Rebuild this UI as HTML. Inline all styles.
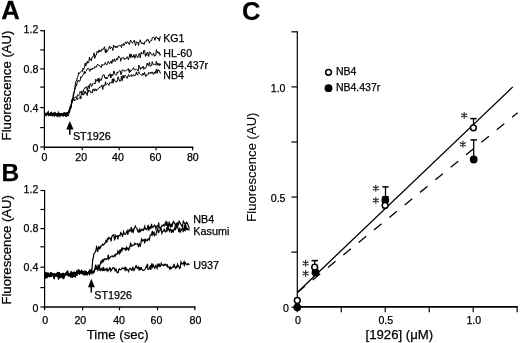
<!DOCTYPE html>
<html><head><meta charset="utf-8"><style>
html,body{margin:0;padding:0;background:#fff;}
svg{display:block;filter:grayscale(1);}
text{font-family:"Liberation Sans", sans-serif;fill:#000;stroke:#000;stroke-width:0.25px;}
</style></head><body>
<svg width="520" height="343" viewBox="0 0 520 343">
<rect width="520" height="343" fill="#fff"/>
<g>
<line x1="44.40" y1="30.10" x2="44.40" y2="147.60" stroke="#000" stroke-width="1.2" />
<line x1="43.80" y1="147.30" x2="193.30" y2="147.30" stroke="#000" stroke-width="1.4" />
<line x1="40.20" y1="147.00" x2="44.40" y2="147.00" stroke="#000" stroke-width="1.2" />
<line x1="40.20" y1="127.60" x2="44.40" y2="127.60" stroke="#000" stroke-width="1.2" />
<line x1="40.20" y1="107.60" x2="44.40" y2="107.60" stroke="#000" stroke-width="1.2" />
<line x1="40.20" y1="87.10" x2="44.40" y2="87.10" stroke="#000" stroke-width="1.2" />
<line x1="40.20" y1="68.90" x2="44.40" y2="68.90" stroke="#000" stroke-width="1.2" />
<line x1="40.20" y1="49.90" x2="44.40" y2="49.90" stroke="#000" stroke-width="1.2" />
<line x1="40.20" y1="30.70" x2="44.40" y2="30.70" stroke="#000" stroke-width="1.2" />
<text x="38.3" y="151.7" font-size="10.6" text-anchor="end" font-weight="normal" >0</text>
<text x="38.3" y="111.6" font-size="10.6" text-anchor="end" font-weight="normal" >0.4</text>
<text x="38.3" y="72.7" font-size="10.6" text-anchor="end" font-weight="normal" >0.8</text>
<text x="38.3" y="33.3" font-size="10.6" text-anchor="end" font-weight="normal" >1.2</text>
<line x1="44.40" y1="147.00" x2="44.40" y2="150.30" stroke="#000" stroke-width="1.2" />
<text x="44.5" y="161.2" font-size="10.6" text-anchor="middle" font-weight="normal" >0</text>
<line x1="82.20" y1="147.00" x2="82.20" y2="150.30" stroke="#000" stroke-width="1.2" />
<text x="81.2" y="161.2" font-size="10.6" text-anchor="middle" font-weight="normal" >20</text>
<line x1="119.20" y1="147.00" x2="119.20" y2="150.30" stroke="#000" stroke-width="1.2" />
<text x="117.9" y="161.2" font-size="10.6" text-anchor="middle" font-weight="normal" >40</text>
<line x1="156.10" y1="147.00" x2="156.10" y2="150.30" stroke="#000" stroke-width="1.2" />
<text x="155.5" y="161.2" font-size="10.6" text-anchor="middle" font-weight="normal" >60</text>
<line x1="192.60" y1="147.00" x2="192.60" y2="150.30" stroke="#000" stroke-width="1.2" />
<text x="192.8" y="161.2" font-size="10.6" text-anchor="middle" font-weight="normal" >80</text>
<text x="0" y="0" font-size="13.2" text-anchor="middle" font-weight="normal" transform="translate(10.6,85.45) rotate(-90)">Fluorescence (AU)</text>
<text x="1.3" y="19.1" font-size="25" text-anchor="start" font-weight="bold" transform="translate(1.3,0) scale(1.03,1) translate(-1.3,0)">A</text>
<polyline points="44.5,112.4 45.1,115.1 46.0,114.5 46.5,113.3 47.3,113.7 47.9,113.8 48.8,115.5 49.5,113.7 50.1,113.7 51.0,112.5 51.6,113.7 52.1,114.6 52.9,113.8 53.7,113.1 54.4,116.0 55.2,114.9 55.6,114.9 56.5,114.7 57.0,114.1 58.0,115.7 58.4,112.5 59.3,114.4 59.8,113.5 60.8,114.0 61.3,113.5 61.9,114.4 62.6,114.4 63.4,114.0 64.0,113.5 64.9,114.7 65.4,115.0 66.1,116.1 67.0,114.4 67.6,114.6 68.2,113.8 68.9,112.4 69.6,111.6 70.3,106.7 71.1,104.4 71.9,99.4 72.6,100.9 73.3,93.7 73.8,92.7 74.5,89.9 75.3,84.6 76.0,80.9 76.7,80.4 77.3,77.6 78.2,75.6 78.6,72.5 79.4,73.7 80.3,72.3 81.1,71.3 81.7,70.6 82.4,71.5 83.1,68.1 83.7,69.6 84.5,66.8 85.1,63.1 85.8,66.2 86.4,64.3 87.3,61.3 87.7,63.2 88.7,62.6 89.5,57.0 90.0,59.9 90.8,59.1 91.3,60.8 92.1,57.1 92.8,57.3 93.4,55.8 94.1,52.8 94.8,58.4 95.6,55.3 96.4,55.0 97.1,51.3 97.7,52.7 98.4,52.5 99.1,49.8 99.7,52.0 100.4,50.5 101.1,51.5 102.0,48.8 102.4,49.5 103.4,49.3 103.9,48.0 104.6,46.7 105.4,52.9 106.0,49.0 106.6,52.4 107.6,50.8 108.3,49.4 108.7,48.3 109.7,46.0 110.2,48.9 111.0,47.5 111.8,47.3 112.4,48.4 112.9,50.5 113.6,45.0 114.5,47.0 115.4,46.4 115.8,47.9 116.6,46.1 117.2,47.5 118.1,45.5 118.7,45.8 119.3,45.5 120.0,45.8 120.9,45.5 121.5,47.5 122.0,44.4 123.0,45.4 123.5,43.5 124.2,45.3 124.9,43.5 125.7,41.8 126.6,43.6 127.0,42.0 127.8,41.9 128.5,43.0 129.4,44.7 130.1,41.6 130.6,40.0 131.2,41.6 132.0,41.9 132.5,43.3 133.5,41.5 134.3,40.2 134.8,42.5 135.6,45.7 136.3,41.6 136.9,42.5 137.7,42.4 138.5,45.5 139.2,41.5 139.7,41.8 140.3,39.8 141.2,43.2 142.0,44.0 142.5,42.7 143.1,43.0 144.1,44.6 144.7,41.9 145.3,41.7 146.1,41.7 146.7,39.7 147.2,40.5 147.9,39.2 148.8,40.9 149.4,43.1 150.0,41.4 150.8,40.4 151.7,40.7 152.2,37.8 152.9,37.5 153.9,37.3 154.2,37.8 155.0,40.3 155.6,37.2 156.6,36.9 157.0,37.9 158.0,39.1 158.5,38.4 159.4,41.1 160.0,36.7 160.7,36.7" fill="none" stroke="#000" stroke-width="1.0" stroke-linejoin="miter"/>
<polyline points="44.5,112.4 45.1,115.1 46.0,114.5 46.5,113.3 47.3,113.7 47.9,113.8 48.8,115.5 49.5,113.7 50.1,113.7 51.0,112.5 51.6,113.7 52.1,114.6 52.9,113.8 53.7,113.1 54.4,116.0 55.2,114.9 55.6,114.9 56.5,114.7 57.0,114.1 58.0,115.7 58.4,112.5 59.3,114.4 59.8,113.5 60.8,114.0 61.3,113.5 61.9,114.4 62.6,114.4 63.4,114.0 64.0,113.5 64.9,114.7 65.4,115.0 66.1,116.1 67.0,114.4 67.6,114.6 68.2,113.8" fill="none" stroke="#000" stroke-width="1.1" stroke-linejoin="miter"/>
<polyline points="44.5,113.4 45.2,114.1 45.9,113.6 46.4,115.5 47.2,114.0 48.2,114.8 48.5,114.9 49.3,114.5 50.3,114.6 50.8,114.6 51.4,115.1 52.2,114.4 53.0,115.1 53.5,114.5 54.2,114.5 55.1,114.9 55.8,113.8 56.4,115.3 57.2,113.8 57.8,114.0 58.7,113.3 59.1,114.0 59.9,116.3 60.6,114.0 61.2,113.7 62.0,114.2 62.6,115.4 63.5,114.6 64.2,113.9 64.7,114.2 65.5,113.2 66.1,116.6 66.7,112.9 67.8,112.4 68.3,113.1 68.9,109.9 69.8,109.4 70.3,109.3 71.3,105.1 71.7,103.1 72.3,102.0 73.1,98.1 73.8,94.7 74.6,90.5 75.5,87.8 76.1,84.4 76.6,85.6 77.2,82.5 78.0,80.2 79.0,80.8 79.5,81.8 80.3,79.8 80.7,76.8 81.4,77.8 82.4,75.5 83.0,75.4 83.6,74.8 84.3,71.3 84.9,73.6 85.7,71.6 86.3,71.0 87.3,68.7 87.9,68.0 88.5,68.3 89.4,70.1 89.9,71.3 90.5,68.8 91.4,70.0 92.3,68.2 92.6,69.1 93.6,68.5 94.1,68.5 94.7,66.5 95.4,67.0 96.2,67.4 97.1,65.1 97.7,64.1 98.5,65.3 99.0,65.4 99.7,65.5 100.4,67.0 101.4,67.3 102.1,64.3 102.5,65.5 103.3,65.1 103.9,64.4 104.8,64.4 105.2,62.5 105.9,63.6 106.8,64.9 107.4,63.5 108.3,61.4 109.0,63.0 109.6,63.8 110.4,62.3 111.1,60.9 111.8,63.5 112.6,59.5 113.0,61.7 113.9,60.8 114.4,58.8 115.2,61.6 116.0,60.4 116.8,58.1 117.4,59.8 117.8,58.3 118.6,55.9 119.3,57.1 120.3,58.4 120.7,61.2 121.4,57.9 122.1,57.7 122.7,58.2 123.7,57.5 124.4,59.6 124.9,58.3 125.7,58.6 126.2,58.7 127.1,56.7 127.7,57.2 128.3,59.8 129.0,58.0 129.9,53.8 130.7,57.5 131.2,54.1 132.1,57.5 132.6,55.9 133.3,57.1 134.0,54.5 134.8,58.3 135.7,55.7 136.0,54.3 136.7,55.7 137.6,57.9 138.5,55.5 139.2,53.4 139.8,55.2 140.2,57.9 141.2,52.2 141.9,54.0 142.4,53.5 143.2,54.0 143.7,50.6 144.7,50.4 145.4,56.4 146.1,53.5 146.8,55.5 147.3,52.1 148.2,53.3 148.7,56.4 149.4,51.9 150.2,52.2 150.9,53.9 151.5,54.0 152.3,55.3 153.0,54.5 153.6,53.0 154.4,56.1 155.0,56.1 155.9,54.9 156.4,49.7 157.3,52.9 157.9,51.6 158.6,53.5 159.4,52.4 160.0,55.3 160.6,54.1" fill="none" stroke="#000" stroke-width="1.0" stroke-linejoin="miter"/>
<polyline points="44.5,113.4 45.2,114.1 45.9,113.6 46.4,115.5 47.2,114.0 48.2,114.8 48.5,114.9 49.3,114.5 50.3,114.6 50.8,114.6 51.4,115.1 52.2,114.4 53.0,115.1 53.5,114.5 54.2,114.5 55.1,114.9 55.8,113.8 56.4,115.3 57.2,113.8 57.8,114.0 58.7,113.3 59.1,114.0 59.9,116.3 60.6,114.0 61.2,113.7 62.0,114.2 62.6,115.4 63.5,114.6 64.2,113.9 64.7,114.2 65.5,113.2 66.1,116.6 66.7,112.9 67.8,112.4 68.3,113.1" fill="none" stroke="#000" stroke-width="1.1" stroke-linejoin="miter"/>
<polyline points="44.5,113.0 45.4,113.6 45.8,113.6 46.5,113.9 47.2,113.8 47.9,114.2 48.8,114.4 49.2,114.6 50.3,114.8 50.9,114.6 51.3,114.0 52.2,113.3 52.7,113.4 53.5,115.0 54.3,113.6 55.0,112.6 55.7,113.7 56.6,115.2 57.0,114.4 57.7,116.2 58.6,114.0 59.4,114.1 60.1,115.4 60.8,114.9 61.1,114.2 62.2,115.0 62.8,115.5 63.5,115.9 64.1,114.7 64.7,114.4 65.6,113.9 66.3,113.3 67.0,113.9 67.5,113.4 68.2,112.7 69.1,110.3 69.5,112.4 70.6,105.3 71.0,106.4 71.8,101.7 72.5,101.4 73.1,100.2 73.8,97.5 74.7,97.4 75.5,97.4 76.1,96.6 76.7,98.8 77.5,94.8 78.1,95.3 78.8,95.6 79.7,93.5 80.1,91.5 80.8,92.6 81.8,91.1 82.5,91.4 83.0,92.7 83.8,89.3 84.5,89.0 85.3,87.1 85.6,87.5 86.7,86.4 87.2,90.4 87.9,87.5 88.7,85.5 89.3,88.6 90.0,83.8 90.6,83.5 91.6,86.5 92.2,85.2 92.6,83.7 93.5,83.9 94.3,82.9 95.1,83.9 95.8,79.0 96.2,80.9 97.2,81.3 97.8,80.0 98.2,78.0 99.0,82.6 99.7,78.6 100.3,80.4 101.3,80.3 101.8,78.1 102.7,75.3 103.1,75.1 104.1,74.6 104.8,77.9 105.5,78.7 106.1,76.9 106.8,79.0 107.4,77.7 108.4,76.7 108.8,74.8 109.6,75.7 110.1,73.6 110.8,78.1 111.8,74.4 112.6,76.0 113.1,74.1 113.9,70.9 114.6,74.0 115.2,74.4 116.0,75.3 116.5,74.8 117.2,72.0 117.9,73.1 118.5,71.5 119.2,70.8 120.2,70.8 121.0,74.7 121.3,74.1 122.3,69.9 123.0,70.2 123.7,70.1 124.3,71.3 125.0,71.1 125.8,70.7 126.3,70.2 127.2,70.1 127.7,69.3 128.3,68.6 129.4,72.8 129.7,69.6 130.5,71.6 131.1,70.0 131.8,70.3 132.5,69.7 133.6,67.5 134.2,69.4 134.8,70.0 135.3,70.1 136.3,68.9 136.9,69.5 137.7,70.8 138.3,70.7 138.8,65.1 139.5,66.5 140.5,69.4 141.0,67.4 141.7,68.5 142.5,67.0 143.1,66.1 143.8,69.3 144.7,67.7 145.3,68.5 146.2,67.1 146.5,65.4 147.3,63.0 148.3,65.8 148.8,63.6 149.6,62.2 150.2,66.5 150.9,65.6 151.8,65.3 152.2,61.7 153.0,64.0 153.7,64.7 154.2,64.3 154.9,64.4 155.7,65.3 156.3,61.3 157.3,65.2 157.9,63.0 158.5,65.1 159.3,65.8 159.8,63.5 160.7,65.4" fill="none" stroke="#000" stroke-width="1.0" stroke-linejoin="miter"/>
<polyline points="44.5,113.0 45.4,113.6 45.8,113.6 46.5,113.9 47.2,113.8 47.9,114.2 48.8,114.4 49.2,114.6 50.3,114.8 50.9,114.6 51.3,114.0 52.2,113.3 52.7,113.4 53.5,115.0 54.3,113.6 55.0,112.6 55.7,113.7 56.6,115.2 57.0,114.4 57.7,116.2 58.6,114.0 59.4,114.1 60.1,115.4 60.8,114.9 61.1,114.2 62.2,115.0 62.8,115.5 63.5,115.9 64.1,114.7 64.7,114.4 65.6,113.9 66.3,113.3 67.0,113.9 67.5,113.4 68.2,112.7" fill="none" stroke="#000" stroke-width="1.1" stroke-linejoin="miter"/>
<polyline points="44.5,114.6 45.3,114.7 46.0,114.6 46.5,115.1 47.1,114.4 48.2,111.8 48.7,113.9 49.2,113.8 50.3,115.1 51.0,115.0 51.4,113.1 52.3,115.7 52.7,115.9 53.6,115.2 54.4,115.7 55.0,115.3 55.7,115.4 56.2,115.6 57.2,115.9 57.8,114.8 58.4,115.2 59.3,115.1 60.1,114.7 60.6,115.4 61.4,114.9 62.2,115.6 62.5,114.4 63.4,113.2 64.3,112.8 64.6,115.2 65.4,114.9 66.2,114.8 67.0,115.5 67.6,115.3 68.3,115.9 68.8,114.4 69.8,107.4 70.3,108.3 70.9,108.7 72.0,102.2 72.6,99.1 73.2,98.2 74.0,98.5 74.6,101.0 75.1,100.4 76.0,99.3 76.8,98.2 77.5,99.8 78.1,99.2 79.0,98.2 79.7,97.9 80.3,96.2 80.8,98.9 81.5,92.3 82.3,94.9 83.1,93.3 83.6,95.1 84.4,93.4 85.1,91.1 85.6,93.4 86.5,92.8 87.2,95.5 88.1,89.5 88.4,92.3 89.5,90.4 90.2,90.7 90.7,92.7 91.3,92.2 92.2,93.1 92.7,89.7 93.4,88.9 94.3,91.3 94.9,88.8 95.6,89.3 96.2,91.1 96.8,89.3 97.6,89.6 98.5,88.2 99.2,88.1 99.6,87.1 100.5,86.9 101.1,87.0 101.9,85.2 102.8,89.4 103.4,84.9 104.0,85.8 104.7,85.8 105.6,81.8 106.1,85.1 106.9,84.2 107.6,83.5 108.3,84.2 108.9,85.5 109.7,82.5 110.4,82.9 110.9,82.3 111.8,83.3 112.4,78.9 113.1,83.1 113.8,78.5 114.4,80.3 115.3,81.4 115.9,80.7 116.5,82.2 117.4,80.9 118.0,76.7 118.7,78.3 119.6,81.2 120.2,80.8 120.8,81.2 121.4,76.2 122.3,80.7 123.1,75.1 123.7,78.1 124.4,77.5 124.9,75.3 125.6,75.7 126.3,76.7 127.1,78.4 128.0,76.1 128.5,74.5 129.1,76.4 129.9,76.2 130.5,76.0 131.4,74.7 131.9,76.6 132.9,75.4 133.4,74.4 134.1,76.0 134.8,75.4 135.5,75.4 136.4,71.9 136.7,74.0 137.7,75.2 138.2,72.5 138.8,71.7 139.6,73.7 140.5,74.5 141.3,74.8 141.9,75.6 142.4,74.1 143.2,73.1 143.7,75.2 144.6,72.4 145.2,74.9 145.8,76.5 146.6,74.5 147.6,75.1 148.1,74.5 148.7,72.3 149.3,73.4 150.4,72.2 150.7,73.5 151.4,73.5 152.1,71.9 153.1,74.1 153.9,74.3 154.2,71.9 155.2,73.4 155.9,70.6 156.5,69.2 157.0,73.4 158.0,69.5 158.6,71.0 159.5,70.7 160.2,73.3 160.8,72.9" fill="none" stroke="#000" stroke-width="1.0" stroke-linejoin="miter"/>
<polyline points="44.5,114.6 45.3,114.7 46.0,114.6 46.5,115.1 47.1,114.4 48.2,111.8 48.7,113.9 49.2,113.8 50.3,115.1 51.0,115.0 51.4,113.1 52.3,115.7 52.7,115.9 53.6,115.2 54.4,115.7 55.0,115.3 55.7,115.4 56.2,115.6 57.2,115.9 57.8,114.8 58.4,115.2 59.3,115.1 60.1,114.7 60.6,115.4 61.4,114.9 62.2,115.6 62.5,114.4 63.4,113.2 64.3,112.8 64.6,115.2 65.4,114.9 66.2,114.8 67.0,115.5 67.6,115.3 68.3,115.9" fill="none" stroke="#000" stroke-width="1.1" stroke-linejoin="miter"/>
<text x="163.3" y="41.599999999999994" font-size="10.6" text-anchor="start" font-weight="normal" >KG1</text>
<text x="163.3" y="56.699999999999996" font-size="10.6" text-anchor="start" font-weight="normal" >HL-60</text>
<text x="163.3" y="68.89999999999999" font-size="10.6" text-anchor="start" font-weight="normal" >NB4.437r</text>
<text x="163.3" y="78.89999999999999" font-size="10.6" text-anchor="start" font-weight="normal" >NB4</text>
<polygon points="69.8,121 66.3,129.6 73.5,129.6" fill="#000"/>
<line x1="69.80" y1="128.00" x2="69.80" y2="134.80" stroke="#000" stroke-width="1.5" />
<text x="72.9" y="140.4" font-size="10.8" text-anchor="start" font-weight="normal" >ST1926</text>
<line x1="44.60" y1="189.90" x2="44.60" y2="307.60" stroke="#000" stroke-width="1.2" />
<line x1="44.00" y1="307.00" x2="195.60" y2="307.00" stroke="#000" stroke-width="1.6" />
<line x1="40.40" y1="307.00" x2="44.60" y2="307.00" stroke="#000" stroke-width="1.2" />
<line x1="40.40" y1="287.60" x2="44.60" y2="287.60" stroke="#000" stroke-width="1.2" />
<line x1="40.40" y1="267.20" x2="44.60" y2="267.20" stroke="#000" stroke-width="1.2" />
<line x1="40.40" y1="246.80" x2="44.60" y2="246.80" stroke="#000" stroke-width="1.2" />
<line x1="40.40" y1="228.60" x2="44.60" y2="228.60" stroke="#000" stroke-width="1.2" />
<line x1="40.40" y1="209.50" x2="44.60" y2="209.50" stroke="#000" stroke-width="1.2" />
<line x1="40.40" y1="190.50" x2="44.60" y2="190.50" stroke="#000" stroke-width="1.2" />
<text x="38.3" y="311.8" font-size="10.6" text-anchor="end" font-weight="normal" >0</text>
<text x="38.3" y="270.9" font-size="10.6" text-anchor="end" font-weight="normal" >0.4</text>
<text x="38.3" y="232.0" font-size="10.6" text-anchor="end" font-weight="normal" >0.8</text>
<text x="38.3" y="193.2" font-size="10.6" text-anchor="end" font-weight="normal" >1.2</text>
<line x1="44.60" y1="307.00" x2="44.60" y2="310.30" stroke="#000" stroke-width="1.2" />
<text x="45.1" y="324.1" font-size="10.6" text-anchor="middle" font-weight="normal" >0</text>
<line x1="82.70" y1="307.00" x2="82.70" y2="310.30" stroke="#000" stroke-width="1.2" />
<text x="80.3" y="324.1" font-size="10.6" text-anchor="middle" font-weight="normal" >20</text>
<line x1="119.50" y1="307.00" x2="119.50" y2="310.30" stroke="#000" stroke-width="1.2" />
<text x="119.1" y="324.1" font-size="10.6" text-anchor="middle" font-weight="normal" >40</text>
<line x1="157.50" y1="307.00" x2="157.50" y2="310.30" stroke="#000" stroke-width="1.2" />
<text x="156.5" y="324.1" font-size="10.6" text-anchor="middle" font-weight="normal" >60</text>
<line x1="194.80" y1="307.00" x2="194.80" y2="310.30" stroke="#000" stroke-width="1.2" />
<text x="195.4" y="324.1" font-size="10.6" text-anchor="middle" font-weight="normal" >80</text>
<text x="0" y="0" font-size="13.15" text-anchor="middle" font-weight="normal" transform="translate(10.6,249.85) rotate(-90)">Fluorescence (AU)</text>
<text x="1.6" y="180.9" font-size="24.5" text-anchor="start" font-weight="bold" >B</text>
<text x="117.7" y="338.9" font-size="13.2" text-anchor="middle" font-weight="normal" >Time (sec)</text>
<polyline points="44.5,275.4 45.2,274.9 45.7,276.3 46.6,274.6 47.3,275.1 47.8,273.7 48.5,275.9 49.6,275.3 50.2,275.5 50.8,273.0 51.6,274.0 52.1,274.8 52.8,274.0 53.4,274.1 54.1,277.4 55.1,275.0 55.8,275.4 56.2,274.2 57.0,274.2 57.6,273.0 58.5,275.0 59.2,273.0 59.9,273.9 60.5,274.2 61.4,275.6 62.0,274.0 62.7,274.4 63.3,275.4 64.3,274.4 64.6,275.8 65.4,274.3 66.2,274.3 66.8,274.3 67.6,273.7 68.4,274.6 69.1,273.9 69.8,273.7 70.3,275.3 71.2,271.9 71.7,272.2 72.5,274.3 73.1,273.0 74.0,272.3 74.4,273.5 75.3,272.6 76.1,272.8 76.8,271.3 77.2,274.4 78.3,272.7 78.7,271.5 79.5,273.7 80.1,272.8 80.7,272.6 81.5,272.0 82.2,273.2 83.0,272.2 83.5,271.8 84.6,272.5 85.0,272.3 85.8,271.5 86.4,272.8 87.1,272.9 88.1,273.1 88.8,271.5 89.3,271.3 89.9,270.2 90.6,272.0 91.4,270.7 92.0,269.1 92.8,258.7 93.3,258.0 94.0,253.5 94.9,252.6 95.6,251.6 96.5,247.0 96.9,248.2 97.7,251.9 98.4,246.5 99.2,248.6 99.8,247.1 100.4,248.0 101.2,245.5 102.0,245.3 102.6,244.1 103.4,245.1 104.0,244.7 104.6,243.3 105.4,242.9 106.1,239.8 106.9,242.6 107.4,238.6 108.3,239.4 108.8,237.5 109.5,238.6 110.5,238.3 111.1,241.3 111.7,237.1 112.5,235.3 113.2,235.9 113.9,234.9 114.5,239.7 115.3,238.6 115.7,235.4 116.5,236.5 117.3,236.0 117.8,239.3 118.6,235.5 119.3,235.3 120.0,235.8 120.7,232.6 121.4,233.6 122.4,236.2 122.7,235.7 123.6,231.7 124.4,234.1 125.1,234.3 125.6,234.2 126.6,231.9 127.1,230.7 127.9,234.8 128.3,231.1 129.2,229.8 129.8,231.3 130.8,230.2 131.2,227.2 131.9,232.6 132.8,229.9 133.3,231.7 134.1,228.7 135.0,226.8 135.3,226.1 136.1,227.5 136.9,228.5 137.6,231.0 138.5,232.0 139.2,229.5 139.8,231.9 140.2,231.8 141.0,229.3 141.8,230.4 142.5,229.5 143.4,230.4 143.9,228.7 144.8,226.3 145.2,229.0 146.1,228.8 146.8,229.6 147.5,227.7 148.2,224.9 148.8,230.7 149.4,227.4 150.0,227.0 150.7,229.0 151.5,223.9 152.2,227.4 152.9,227.1 153.6,227.0 154.4,225.1 155.2,225.7 155.9,229.0 156.7,226.7 157.1,225.7 158.1,226.7 158.7,222.6 159.2,227.0 160.1,228.5 160.6,227.6 161.5,226.9 162.0,225.4 162.8,225.9 163.3,224.7 164.4,225.8 164.7,224.6 165.7,222.2 166.2,226.0 166.9,221.6 167.9,228.0 168.3,226.1 169.2,221.6 169.8,225.7 170.4,227.6 171.1,223.6 172.1,227.0 172.6,223.1 173.5,221.4 174.0,222.9 174.6,222.9 175.5,225.7 176.2,224.0 176.8,225.8 177.5,222.4 178.2,225.5 179.1,221.3 179.4,221.5 180.4,223.4 181.0,224.7 181.8,225.9 182.3,226.5 183.3,221.3 183.9,222.5 184.6,222.8 185.3,225.2 185.8,224.0 186.5,222.2 187.1,222.8 188.1,224.9 188.9,227.2 189.3,228.4" fill="none" stroke="#000" stroke-width="1.2" stroke-linejoin="miter"/>
<polyline points="44.5,275.4 45.2,274.9 45.7,276.3 46.6,274.6 47.3,275.1 47.8,273.7 48.5,275.9 49.6,275.3 50.2,275.5 50.8,273.0 51.6,274.0 52.1,274.8 52.8,274.0 53.4,274.1 54.1,277.4 55.1,275.0 55.8,275.4 56.2,274.2 57.0,274.2 57.6,273.0 58.5,275.0 59.2,273.0 59.9,273.9 60.5,274.2 61.4,275.6 62.0,274.0 62.7,274.4 63.3,275.4 64.3,274.4 64.6,275.8 65.4,274.3 66.2,274.3 66.8,274.3 67.6,273.7 68.4,274.6 69.1,273.9 69.8,273.7 70.3,275.3 71.2,271.9 71.7,272.2 72.5,274.3 73.1,273.0 74.0,272.3 74.4,273.5 75.3,272.6 76.1,272.8 76.8,271.3 77.2,274.4 78.3,272.7 78.7,271.5 79.5,273.7 80.1,272.8 80.7,272.6 81.5,272.0 82.2,273.2 83.0,272.2 83.5,271.8 84.6,272.5 85.0,272.3 85.8,271.5 86.4,272.8 87.1,272.9 88.1,273.1 88.8,271.5 89.3,271.3 89.9,270.2 90.6,272.0 91.4,270.7" fill="none" stroke="#000" stroke-width="1.3" stroke-linejoin="miter"/>
<polyline points="44.5,275.1 45.2,273.5 46.0,272.9 46.4,274.7 47.4,275.3 48.2,275.1 48.7,272.8 49.2,275.0 50.3,274.6 50.9,272.3 51.4,274.9 52.3,273.8 53.1,275.1 53.5,274.5 54.4,274.1 55.1,275.0 55.6,275.1 56.3,273.7 57.3,274.9 57.7,275.1 58.5,272.1 59.3,277.7 59.9,275.9 60.4,274.7 61.2,276.5 62.0,277.2 62.8,274.9 63.4,278.3 64.1,277.7 64.7,275.4 65.6,274.5 66.1,274.8 67.0,273.5 67.6,273.6 68.3,275.3 69.0,274.2 69.6,275.0 70.3,275.3 71.2,274.5 71.7,275.0 72.3,277.5 73.1,274.5 74.1,276.2 74.7,275.1 75.3,276.6 76.0,274.8 76.8,274.9 77.3,274.3 78.2,271.4 78.6,270.5 79.6,271.6 80.4,271.9 81.0,272.1 81.4,270.5 82.3,271.1 82.9,272.4 83.9,273.8 84.2,274.0 84.9,271.7 85.6,273.0 86.4,272.6 87.4,274.0 87.9,273.4 88.7,272.3 89.1,272.2 89.9,273.1 90.7,273.5 91.5,271.0 92.2,272.1 92.8,272.5 93.4,272.3 94.1,272.2 94.9,269.6 95.5,269.3 96.4,267.1 97.2,269.2 97.8,269.7 98.2,264.6 99.2,268.1 99.6,266.2 100.4,263.8 101.3,260.5 101.8,263.3 102.7,259.0 103.4,262.1 104.1,259.3 104.7,258.8 105.6,259.4 106.2,258.9 106.6,259.3 107.7,258.7 108.2,254.7 108.8,259.1 109.7,257.7 110.5,257.1 111.1,256.4 111.8,256.3 112.2,255.9 113.0,256.8 113.9,256.0 114.7,255.1 115.1,256.1 116.0,253.9 116.4,253.9 117.4,254.1 117.9,251.1 118.5,251.9 119.3,253.6 120.1,249.4 120.8,252.0 121.6,248.9 122.1,250.3 122.9,248.0 123.6,248.8 124.4,248.7 124.8,248.4 125.7,250.0 126.4,247.5 126.9,249.3 127.9,247.8 128.6,249.9 129.4,248.2 129.8,247.1 130.6,242.6 131.4,246.3 132.2,246.1 132.8,245.0 133.3,245.2 134.2,245.0 134.8,243.2 135.5,244.2 136.3,244.0 137.1,243.8 137.4,243.6 138.4,246.2 139.2,244.1 139.6,245.7 140.3,246.2 141.1,242.2 141.6,239.1 142.6,240.8 143.2,239.9 144.0,239.9 144.7,243.4 145.1,238.8 145.9,240.7 146.7,240.0 147.4,240.6 148.0,238.8 148.7,238.9 149.3,239.9 150.2,235.1 151.1,235.2 151.4,235.1 152.3,231.2 152.9,234.6 153.9,231.7 154.5,235.3 155.0,234.4 156.0,234.8 156.4,232.5 157.3,229.6 157.8,228.5 158.5,233.1 159.1,231.1 159.9,230.8 160.7,228.0 161.2,229.0 161.9,233.3 162.6,231.5 163.7,231.0 164.2,229.3 165.1,231.2 165.6,232.0 166.3,231.2 166.9,227.0 167.8,230.2 168.3,228.1 169.2,229.5 169.8,231.3 170.4,229.2 171.2,229.8 171.7,232.9 172.6,230.3 173.3,231.7 174.1,229.3 174.9,227.3 175.3,229.4 176.1,228.2 176.9,226.0 177.6,226.6 178.1,228.4 178.9,232.1 179.8,227.9 180.3,232.0 181.1,230.6 181.6,229.4 182.5,227.6 183.1,231.4 183.9,230.4 184.4,225.0 185.1,231.2 185.8,225.0 186.6,229.9 187.1,228.4 187.9,229.6 188.8,229.1 189.3,230.5" fill="none" stroke="#000" stroke-width="1.2" stroke-linejoin="miter"/>
<polyline points="44.5,275.1 45.2,273.5 46.0,272.9 46.4,274.7 47.4,275.3 48.2,275.1 48.7,272.8 49.2,275.0 50.3,274.6 50.9,272.3 51.4,274.9 52.3,273.8 53.1,275.1 53.5,274.5 54.4,274.1 55.1,275.0 55.6,275.1 56.3,273.7 57.3,274.9 57.7,275.1 58.5,272.1 59.3,277.7 59.9,275.9 60.4,274.7 61.2,276.5 62.0,277.2 62.8,274.9 63.4,278.3 64.1,277.7 64.7,275.4 65.6,274.5 66.1,274.8 67.0,273.5 67.6,273.6 68.3,275.3 69.0,274.2 69.6,275.0 70.3,275.3 71.2,274.5 71.7,275.0 72.3,277.5 73.1,274.5 74.1,276.2 74.7,275.1 75.3,276.6 76.0,274.8 76.8,274.9 77.3,274.3 78.2,271.4 78.6,270.5 79.6,271.6 80.4,271.9 81.0,272.1 81.4,270.5 82.3,271.1 82.9,272.4 83.9,273.8 84.2,274.0 84.9,271.7 85.6,273.0 86.4,272.6 87.4,274.0 87.9,273.4 88.7,272.3 89.1,272.2 89.9,273.1 90.7,273.5 91.5,271.0" fill="none" stroke="#000" stroke-width="1.3" stroke-linejoin="miter"/>
<polyline points="44.5,275.1 45.1,272.8 45.7,278.4 46.7,275.8 47.3,277.1 48.2,275.9 48.8,276.3 49.5,276.2 49.9,276.6 50.8,275.5 51.5,276.1 52.0,275.6 52.9,275.0 53.5,275.4 54.2,277.7 55.1,275.2 55.7,275.8 56.2,275.8 57.0,275.6 58.0,276.3 58.5,278.2 59.1,276.2 59.7,277.7 60.6,276.8 61.4,274.9 62.0,274.6 62.8,274.7 63.4,273.8 64.2,275.7 64.8,274.6 65.5,274.2 66.2,272.6 66.7,273.9 67.7,271.7 68.4,275.8 69.1,275.9 69.7,274.4 70.2,274.9 71.0,276.5 71.8,274.8 72.6,276.5 73.0,276.0 74.1,274.3 74.7,274.7 75.4,275.0 76.2,273.8 76.7,272.4 77.4,272.2 78.0,272.6 78.9,270.4 79.6,271.4 80.4,272.6 81.1,272.6 81.6,273.6 82.4,273.3 83.2,273.1 83.7,275.0 84.4,272.0 85.1,275.1 85.8,272.4 86.5,272.0 87.1,274.4 87.8,273.1 88.5,272.2 89.3,274.0 90.1,271.1 90.8,271.7 91.3,270.2 92.1,273.1 92.8,270.6 93.4,273.3 94.4,269.6 94.8,269.3 95.7,264.6 96.4,268.5 97.1,267.5 97.8,270.0 98.6,267.5 99.0,265.6 99.9,270.3 100.4,270.6 101.1,268.5 102.0,270.2 102.7,267.7 103.4,271.0 103.8,268.1 104.9,270.4 105.5,269.7 106.1,268.8 107.0,270.7 107.3,269.1 108.1,270.6 108.8,270.7 109.5,267.8 110.4,268.1 110.9,271.0 111.8,269.3 112.4,269.0 113.0,267.5 113.9,267.8 114.3,267.9 115.1,270.8 115.9,269.1 116.6,270.8 117.3,272.8 118.2,272.5 118.7,269.8 119.5,268.9 120.1,270.0 120.7,269.6 121.3,269.2 122.3,267.9 123.0,268.4 123.8,268.7 124.2,267.9 125.0,270.0 125.7,266.9 126.4,269.8 126.9,269.1 127.9,270.2 128.6,271.5 129.0,269.5 130.0,268.6 130.5,268.3 131.3,270.0 131.9,270.3 132.8,266.8 133.4,269.4 133.9,270.4 134.7,269.1 135.6,266.6 136.1,265.7 136.9,267.8 137.7,268.4 138.2,267.0 139.0,269.7 139.7,267.3 140.3,270.1 141.2,267.1 141.6,269.3 142.6,269.9 143.1,270.6 143.8,270.3 144.5,269.8 145.4,268.8 146.2,266.6 146.6,267.0 147.5,263.8 147.9,269.4 148.8,269.3 149.4,268.7 150.3,265.3 150.8,269.9 151.6,264.7 152.5,266.8 152.9,264.3 153.6,265.4 154.5,268.2 154.9,268.1 155.9,265.4 156.7,267.2 157.1,268.3 157.9,263.7 158.8,266.6 159.2,263.7 160.1,266.6 160.8,265.6 161.2,263.3 162.0,264.8 163.0,265.4 163.3,265.6 164.1,264.3 164.7,265.3 165.5,264.2 166.2,264.6 167.1,266.3 167.5,265.2 168.2,267.1 169.1,267.0 169.7,268.7 170.5,267.2 171.0,268.8 171.8,268.0 172.5,266.7 173.4,267.2 174.1,263.9 174.6,266.4 175.4,268.2 176.2,266.7 176.8,267.6 177.6,264.3 178.3,266.3 178.8,266.3 179.6,268.4 180.3,267.7 180.9,261.9 181.8,263.8 182.5,263.6 182.9,263.9 184.0,261.8 184.3,266.3 185.2,261.8 185.7,263.7 186.6,264.1 187.3,264.8 188.0,263.6 188.6,264.0 189.4,264.8" fill="none" stroke="#000" stroke-width="1.2" stroke-linejoin="miter"/>
<polyline points="44.5,275.1 45.1,272.8 45.7,278.4 46.7,275.8 47.3,277.1 48.2,275.9 48.8,276.3 49.5,276.2 49.9,276.6 50.8,275.5 51.5,276.1 52.0,275.6 52.9,275.0 53.5,275.4 54.2,277.7 55.1,275.2 55.7,275.8 56.2,275.8 57.0,275.6 58.0,276.3 58.5,278.2 59.1,276.2 59.7,277.7 60.6,276.8 61.4,274.9 62.0,274.6 62.8,274.7 63.4,273.8 64.2,275.7 64.8,274.6 65.5,274.2 66.2,272.6 66.7,273.9 67.7,271.7 68.4,275.8 69.1,275.9 69.7,274.4 70.2,274.9 71.0,276.5 71.8,274.8 72.6,276.5 73.0,276.0 74.1,274.3 74.7,274.7 75.4,275.0 76.2,273.8 76.7,272.4 77.4,272.2 78.0,272.6 78.9,270.4 79.6,271.4 80.4,272.6 81.1,272.6 81.6,273.6 82.4,273.3 83.2,273.1 83.7,275.0 84.4,272.0 85.1,275.1 85.8,272.4 86.5,272.0 87.1,274.4 87.8,273.1 88.5,272.2 89.3,274.0 90.1,271.1 90.8,271.7 91.3,270.2" fill="none" stroke="#000" stroke-width="1.3" stroke-linejoin="miter"/>
<text x="193.3" y="223.10000000000002" font-size="10.8" text-anchor="start" font-weight="normal" >NB4</text>
<text x="193.3" y="235.4" font-size="10.8" text-anchor="start" font-weight="normal" >Kasumi</text>
<text x="193.3" y="268.5" font-size="10.8" text-anchor="start" font-weight="normal" >U937</text>
<polygon points="91.3,278.7 88.0,287.3 94.8,287.3" fill="#000"/>
<line x1="91.30" y1="286.00" x2="91.30" y2="292.50" stroke="#000" stroke-width="1.5" />
<text x="94.3" y="299.0" font-size="10.8" text-anchor="start" font-weight="normal" >ST1926</text>
<line x1="297.30" y1="31.22" x2="297.30" y2="307.80" stroke="#000" stroke-width="1.2" />
<line x1="296.70" y1="306.90" x2="517.77" y2="306.90" stroke="#000" stroke-width="1.6" />
<line x1="291.40" y1="307.20" x2="297.30" y2="307.20" stroke="#000" stroke-width="1.2" />
<line x1="297.30" y1="307.20" x2="297.30" y2="312.30" stroke="#000" stroke-width="1.2" />
<line x1="291.40" y1="252.12" x2="297.30" y2="252.12" stroke="#000" stroke-width="1.2" />
<line x1="341.28" y1="307.20" x2="341.28" y2="312.30" stroke="#000" stroke-width="1.2" />
<line x1="291.40" y1="197.05" x2="297.30" y2="197.05" stroke="#000" stroke-width="1.2" />
<line x1="385.25" y1="307.20" x2="385.25" y2="312.30" stroke="#000" stroke-width="1.2" />
<line x1="291.40" y1="141.97" x2="297.30" y2="141.97" stroke="#000" stroke-width="1.2" />
<line x1="429.23" y1="307.20" x2="429.23" y2="312.30" stroke="#000" stroke-width="1.2" />
<line x1="291.40" y1="86.90" x2="297.30" y2="86.90" stroke="#000" stroke-width="1.2" />
<line x1="473.20" y1="307.20" x2="473.20" y2="312.30" stroke="#000" stroke-width="1.2" />
<line x1="291.40" y1="31.82" x2="297.30" y2="31.82" stroke="#000" stroke-width="1.2" />
<line x1="517.17" y1="307.20" x2="517.17" y2="312.30" stroke="#000" stroke-width="1.2" />
<text x="288.90000000000003" y="312.0" font-size="10.6" text-anchor="end" font-weight="normal" >0</text>
<text x="285.5" y="201.85" font-size="10.6" text-anchor="end" font-weight="normal" >0.5</text>
<text x="285.5" y="91.69999999999997" font-size="10.6" text-anchor="end" font-weight="normal" >1.0</text>
<text x="297.90000000000003" y="324.3" font-size="10.6" text-anchor="middle" font-weight="normal" >0</text>
<text x="385.85" y="324.3" font-size="10.6" text-anchor="middle" font-weight="normal" >0.5</text>
<text x="473.80000000000007" y="324.3" font-size="10.6" text-anchor="middle" font-weight="normal" >1.0</text>
<text x="0" y="0" font-size="13.1" text-anchor="middle" font-weight="normal" transform="translate(256.3,167.1) rotate(-90)" style="stroke-width:0.1px">Fluorescence (AU)</text>
<text x="242.1" y="19.8" font-size="25.5" text-anchor="start" font-weight="bold" >C</text>
<text x="365.5" y="338.9" font-size="13.2" text-anchor="start" font-weight="normal" >[1926] (&#956;M)</text>
<line x1="297.30" y1="292.50" x2="512.80" y2="86.90" stroke="#000" stroke-width="1.3" />
<line x1="297.30" y1="292.50" x2="517.60" y2="112.80" stroke="#000" stroke-width="1.3" stroke-dasharray="9.7 10.1"/>
<line x1="314.70" y1="267.20" x2="314.70" y2="260.60" stroke="#000" stroke-width="1.3" />
<line x1="311.50" y1="260.60" x2="317.90" y2="260.60" stroke="#000" stroke-width="1.5" />
<line x1="385.50" y1="205.30" x2="385.50" y2="196.70" stroke="#000" stroke-width="1.3" />
<line x1="382.30" y1="196.70" x2="388.70" y2="196.70" stroke="#000" stroke-width="1.5" />
<line x1="385.50" y1="199.90" x2="385.50" y2="186.90" stroke="#000" stroke-width="1.3" />
<line x1="382.30" y1="186.90" x2="388.70" y2="186.90" stroke="#000" stroke-width="1.5" />
<line x1="473.50" y1="127.70" x2="473.50" y2="118.60" stroke="#000" stroke-width="1.3" />
<line x1="470.30" y1="118.60" x2="476.70" y2="118.60" stroke="#000" stroke-width="1.5" />
<line x1="473.70" y1="159.50" x2="473.70" y2="139.90" stroke="#000" stroke-width="1.3" />
<line x1="470.50" y1="139.90" x2="476.90" y2="139.90" stroke="#000" stroke-width="1.5" />
<circle cx="297.3" cy="307.3" r="3.9" fill="#000"/>
<circle cx="315.5" cy="272.4" r="3.9" fill="#000"/>
<circle cx="385.3" cy="199.9" r="3.9" fill="#000"/>
<circle cx="473.7" cy="159.5" r="3.9" fill="#000"/>
<circle cx="297.3" cy="300.5" r="2.9" fill="#fff" stroke="#000" stroke-width="1.5"/>
<circle cx="314.7" cy="267.2" r="2.9" fill="#fff" stroke="#000" stroke-width="1.5"/>
<circle cx="385.1" cy="205.4" r="2.9" fill="#fff" stroke="#000" stroke-width="1.5"/>
<circle cx="473.4" cy="127.8" r="2.9" fill="#fff" stroke="#000" stroke-width="1.5"/>
<path d="M305.60,260.40L305.60,266.20M303.09,261.85L308.11,264.75M308.11,261.85L303.09,264.75" stroke="#2a2a2a" stroke-width="1.2" stroke-linecap="round" fill="none"/>
<path d="M305.60,270.50L305.60,276.30M303.09,271.95L308.11,274.85M308.11,271.95L303.09,274.85" stroke="#2a2a2a" stroke-width="1.2" stroke-linecap="round" fill="none"/>
<path d="M375.80,185.40L375.80,191.20M373.29,186.85L378.31,189.75M378.31,186.85L373.29,189.75" stroke="#2a2a2a" stroke-width="1.2" stroke-linecap="round" fill="none"/>
<path d="M375.80,197.50L375.80,203.30M373.29,198.95L378.31,201.85M378.31,198.95L373.29,201.85" stroke="#2a2a2a" stroke-width="1.2" stroke-linecap="round" fill="none"/>
<path d="M464.20,112.50L464.20,118.30M461.69,113.95L466.71,116.85M466.71,113.95L461.69,116.85" stroke="#2a2a2a" stroke-width="1.2" stroke-linecap="round" fill="none"/>
<path d="M462.90,141.30L462.90,147.10M460.39,142.75L465.41,145.65M465.41,142.75L460.39,145.65" stroke="#2a2a2a" stroke-width="1.2" stroke-linecap="round" fill="none"/>
<circle cx="328.5" cy="72.3" r="2.9" fill="#fff" stroke="#000" stroke-width="1.5"/>
<circle cx="328.5" cy="88.2" r="3.9" fill="#000"/>
<text x="335.9" y="75.0" font-size="10.5" text-anchor="start" font-weight="normal" >NB4</text>
<text x="335.9" y="90.8" font-size="10.5" text-anchor="start" font-weight="normal" >NB4.437r</text>
</g>
</svg>
</body></html>
